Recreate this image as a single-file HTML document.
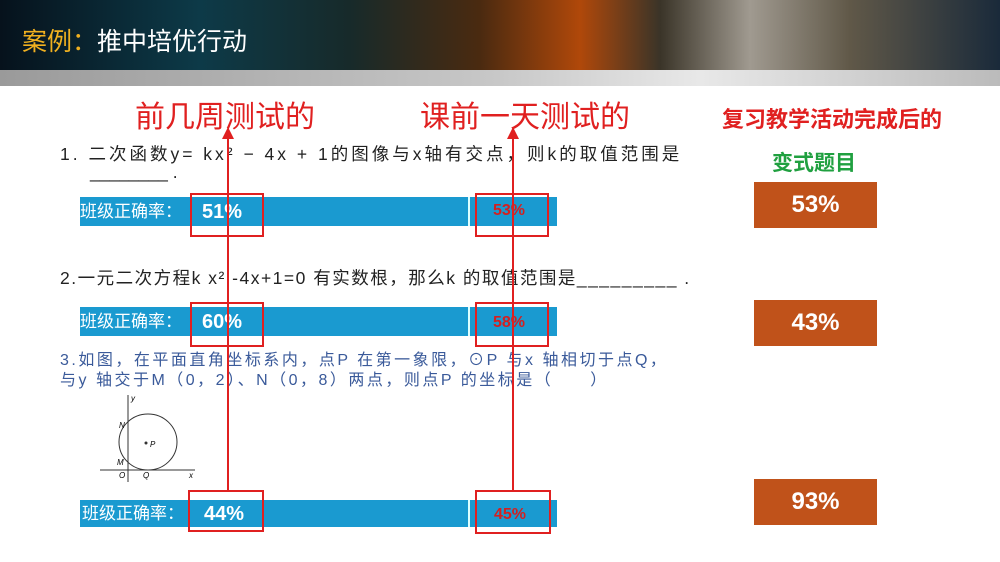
<!DOCTYPE html>
<html><head><meta charset="utf-8"><style>
body{margin:0;width:1000px;height:562px;overflow:hidden;background:#fff;position:relative;font-family:"Liberation Sans","Noto Sans CJK SC",sans-serif}
.a{position:absolute;white-space:nowrap}
.hdr{position:absolute;left:0;top:0;width:1000px;height:70px;background:linear-gradient(90deg,#06121c 0%,#0d3a48 20%,#172a2a 35%,#4a2a10 48%,#b0480a 58%,#3a3428 66%,#a09a90 75%,#605848 85%,#1a2a3a 100%)}
.band{position:absolute;left:0;top:70px;width:1000px;height:16px;background:linear-gradient(90deg,#9a9a9a,#c8c8c8 50%,#e8e8e8 70%,#bbb)}
.bar{position:absolute;left:80px;width:477px;background:#1a9ad0}
.div{position:absolute;left:468px;width:2px;background:#dff}
.rb{position:absolute;border:2px solid #e02020;box-sizing:border-box}
.bl{color:#fff;font-size:17px;line-height:20px}
.pc{color:#fff;font-weight:bold;font-size:20px;line-height:20px}
.pr{color:#d42020;font-weight:bold;font-size:16px;line-height:20px}
.br{position:absolute;left:754px;width:123px;height:46px;background:#c0521a;color:#fff;font-weight:bold;font-size:24px;text-align:center;line-height:46px}
.vl{position:absolute;width:2px;background:#e02020}
.q{font-size:17.5px;color:#222}
</style></head><body>
<div class="hdr"></div><div class="band"></div>
<div class="a" style="left:22px;top:22px;font-size:25px;color:#fff"><span style="color:#f0b020">案例：</span>推中培优行动</div>

<div class="a" style="left:135px;top:92px;font-size:30px;color:#e02020">前几周测试的</div>
<div class="a" style="left:420px;top:92px;font-size:30px;color:#e02020">课前一天测试的</div>
<div class="a" style="left:722px;top:102px;font-size:22px;font-weight:bold;color:#e02020">复习教学活动完成后的</div>
<div class="a" style="left:772px;top:147px;font-size:21px;font-weight:bold;color:#20a040">变式题目</div>

<div class="a q" style="left:60px;top:141px;letter-spacing:3px">1.  二次函数y= kx² − 4x + 1的图像与x轴有交点，则k的取值范围是</div>
<div class="a q" style="left:90px;top:162px">________ .</div>
<div class="a q" style="left:60px;top:265px;letter-spacing:1.5px">2.一元二次方程k x² -4x+1=0 有实数根，那么k 的取值范围是_________ .</div>
<div class="a" style="left:60px;top:351px;font-size:16px;color:#3a5a9a;line-height:20px;letter-spacing:2.5px">3.如图，在平面直角坐标系内，点P 在第一象限，⊙P 与x 轴相切于点Q，<br>与y 轴交于M（0，2）、N（0，8）两点，则点P 的坐标是（　　）</div>

<svg class="a" style="left:95px;top:392px" width="110" height="90">
<line x1="5" y1="78" x2="100" y2="78" stroke="#333"/><line x1="33" y1="3" x2="33" y2="90" stroke="#333"/>
<ellipse cx="53" cy="50" rx="29" ry="28" fill="none" stroke="#333"/>
<circle cx="51" cy="51" r="1.5" fill="#333"/>
<text x="55" y="55" font-size="8" font-style="italic">P</text><text x="24" y="36" font-size="8" font-style="italic">N</text>
<text x="22" y="73" font-size="8" font-style="italic">M</text><text x="24" y="86" font-size="8" font-style="italic">O</text>
<text x="48" y="86" font-size="8" font-style="italic">Q</text><text x="94" y="86" font-size="8" font-style="italic">x</text><text x="36" y="9" font-size="8" font-style="italic">y</text>
</svg>

<div class="bar" style="top:197px;height:29px"></div><div class="div" style="top:197px;height:29px"></div>
<div class="a bl" style="left:80px;top:202px">班级正确率：</div>
<div class="a pc" style="left:202px;top:202px">51%</div><div class="a pr" style="left:493px;top:201px">53%</div>

<div class="bar" style="top:307px;height:29px"></div><div class="div" style="top:307px;height:29px"></div>
<div class="a bl" style="left:80px;top:312px">班级正确率：</div>
<div class="a pc" style="left:202px;top:312px">60%</div><div class="a pr" style="left:493px;top:313px">58%</div>

<div class="bar" style="top:500px;height:27px"></div><div class="div" style="top:500px;height:27px"></div>
<div class="a bl" style="left:82px;top:504px">班级正确率：</div>
<div class="a pc" style="left:204px;top:504px">44%</div><div class="a pr" style="left:494px;top:505px">45%</div>

<div class="vl" style="left:227px;top:138px;height:354px"></div>
<div class="vl" style="left:512px;top:138px;height:354px"></div>
<svg class="a" style="left:221px;top:127px" width="14" height="13"><polygon points="7,0 1,12 13,12" fill="#e02020"/></svg>
<svg class="a" style="left:506px;top:127px" width="14" height="13"><polygon points="7,0 1,12 13,12" fill="#e02020"/></svg>

<div class="rb" style="left:190px;top:193px;width:74px;height:44px"></div>
<div class="rb" style="left:475px;top:193px;width:74px;height:44px"></div>
<div class="rb" style="left:190px;top:302px;width:74px;height:45px"></div>
<div class="rb" style="left:475px;top:302px;width:74px;height:45px"></div>
<div class="rb" style="left:188px;top:490px;width:76px;height:42px"></div>
<div class="rb" style="left:475px;top:490px;width:76px;height:44px"></div>

<div class="br" style="top:182px">53%</div>
<div class="br" style="top:300px">43%</div>
<div class="br" style="top:479px">93%</div>
</body></html>
